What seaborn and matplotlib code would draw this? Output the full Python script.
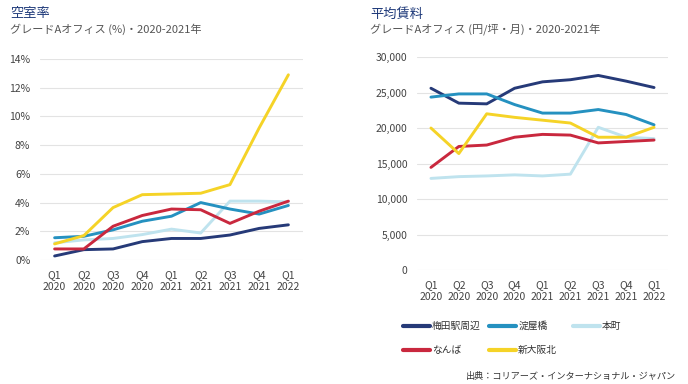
import matplotlib
matplotlib.use("Agg")
import matplotlib.pyplot as plt
import seaborn as sns
import pandas as pd
from matplotlib.lines import Line2D
from matplotlib.ticker import FuncFormatter

quarters = ["Q1\n2020", "Q2\n2020", "Q3\n2020", "Q4\n2020", "Q1\n2021",
            "Q2\n2021", "Q3\n2021", "Q4\n2021", "Q1\n2022"]
areas = ["梅田駅周辺", "淀屋橋", "本町", "なんば", "新大阪北"]
colors = ["#263a78", "#2591c0", "#bfe3ee", "#c9283e", "#f5d327"]

vac_umeda = [0.28, 0.72, 0.77, 1.28, 1.5, 1.5, 1.74, 2.2, 2.45]
vac_yodoyabashi = [1.55, 1.65, 2.1, 2.7, 3.05, 4.0, 3.55, 3.2, 3.8]
vac_honmachi = [1.2, 1.4, 1.5, 1.77, 2.15, 1.88, 4.1, 4.1, 4.05]
vac_namba = [0.77, 0.77, 2.35, 3.1, 3.55, 3.5, 2.55, 3.4, 4.1]
vac_shinosaka = [1.12, 1.7, 3.65, 4.55, 4.6, 4.65, 5.25, 9.2, 12.9]

rent_umeda = [25600, 23500, 23400, 25600, 26500, 26800, 27400, 26600, 25700]
rent_yodoyabashi = [24350, 24800, 24800, 23300, 22100, 22100, 22600, 21900, 20450]
rent_honmachi = [12900, 13150, 13250, 13400, 13250, 13500, 20100, 18700, 18500]
rent_namba = [14450, 17400, 17600, 18700, 19100, 19000, 17900, 18100, 18300]
rent_shinosaka = [20000, 16400, 22000, 21500, 21100, 20700, 18700, 18700, 20100]

vac = [vac_umeda, vac_yodoyabashi, vac_honmachi, vac_namba, vac_shinosaka]
rent = [rent_umeda, rent_yodoyabashi, rent_honmachi, rent_namba, rent_shinosaka]


def long_df(series):
    rows = []
    for a, vals in zip(areas, series):
        for i, v in enumerate(vals):
            rows.append({"x": i, "area": a, "v": v})
    return pd.DataFrame(rows)


sns.set_theme(style="white")
plt.rcParams["font.family"] = ["Noto Sans CJK JP", "DejaVu Sans"]

fig = plt.figure(figsize=(6.88, 3.84), dpi=100)
ax1 = fig.add_axes([40 / 688, 1 - 260 / 384, 263 / 688, 201 / 384])
ax2 = fig.add_axes([417 / 688, 1 - 270 / 384, 251 / 688, 213 / 384])

pal = dict(zip(areas, colors))
draw_order = ["本町", "梅田駅周辺", "淀屋橋", "なんば", "新大阪北"]
for ax, series in ((ax1, vac), (ax2, rent)):
    df = long_df(series)
    for a in draw_order:
        sns.lineplot(data=df[df.area == a], x="x", y="v", color=pal[a],
                     linewidth=2.1, ax=ax, legend=False, clip_on=False)
    ax.set_xlim(-0.5, 8.5)
    ax.set_xticks(range(len(quarters)))
    ax.set_xticklabels(quarters, fontsize=7.5, color="#444444", linespacing=1.25)
    ax.set_xlabel("")
    ax.set_ylabel("")
    ax.grid(axis="y", color="#e3e3e3", linewidth=0.8)
    ax.set_axisbelow(True)
    for s in ax.spines.values():
        s.set_visible(False)
    ax.tick_params(axis="both", length=0, labelsize=7.5, colors="#444444")
    ax.tick_params(axis="x", pad=7)
    ax.tick_params(axis="y", pad=7)

ax1.set_ylim(0, 14)
ax1.set_yticks(range(0, 15, 2))
ax1.yaxis.set_major_formatter(FuncFormatter(lambda v, p: f"{int(v)}%"))
ax2.set_ylim(0, 30000)
ax2.set_yticks(range(0, 30001, 5000))
ax2.yaxis.set_major_formatter(FuncFormatter(lambda v, p: f"{int(v):,}"))

title_color = "#1f3a7a"
fig.text(10 / 688, 1 - 14 / 384, "空室率", fontsize=9.5, color=title_color, va="center")
fig.text(10 / 688, 1 - 29 / 384, "グレードAオフィス (%)・2020-2021年", fontsize=8,
         color="#555555", va="center")
fig.text(370 / 688, 1 - 14 / 384, "平均賃料", fontsize=9.5, color=title_color, va="center")
fig.text(370 / 688, 1 - 29 / 384, "グレードAオフィス (円/坪・月)・2020-2021年", fontsize=8,
         color="#555555", va="center")

legend_cols = [(["梅田駅周辺", "なんば"], 403), (["淀屋橋", "新大阪北"], 489), (["本町"], 573)]
for labels, x0 in legend_cols:
    handles = [Line2D([0], [0], color=pal[a], linewidth=3.0) for a in labels]
    leg = fig.legend(handles, labels, ncol=1, frameon=False, fontsize=7,
                     loc="upper left", bbox_to_anchor=(x0 / 688, 1 - 321 / 384),
                     borderpad=0, borderaxespad=0,
                     handlelength=2.8, handletextpad=0.2,
                     labelspacing=1.45, labelcolor="#333333")

fig.text(466 / 688, 1 - 376 / 384, "出典：コリアーズ・インターナショナル・ジャパン",
         fontsize=6.6, color="#333333", va="center")

fig.savefig("out.png", dpi=100)
